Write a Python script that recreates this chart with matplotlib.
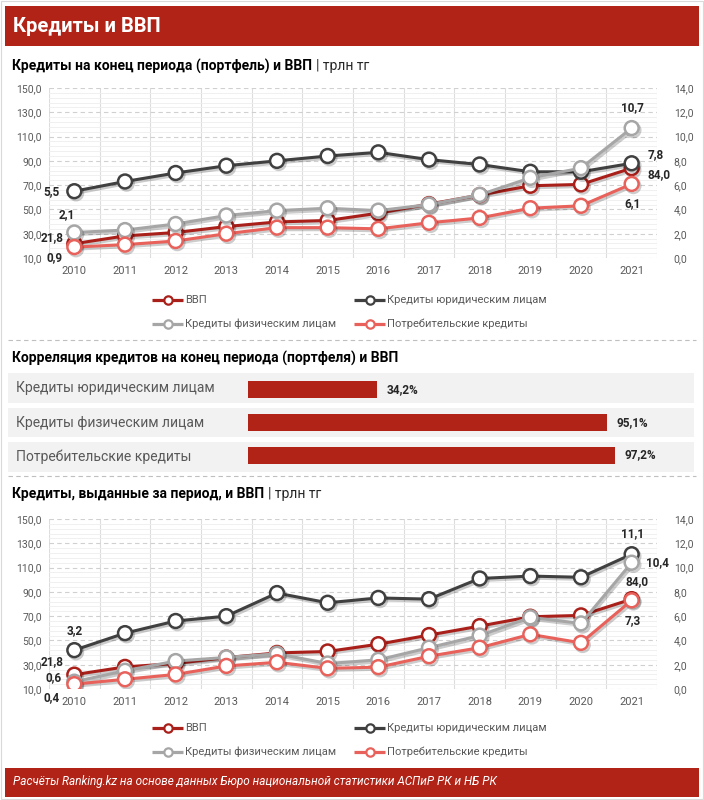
import matplotlib
matplotlib.use('Agg')
import matplotlib.pyplot as plt
import matplotlib.patheffects as pe
from matplotlib.ticker import FuncFormatter, AutoMinorLocator
import numpy as np

plt.rcParams['font.family'] = ['Roboto', 'DejaVu Sans']

W, H = 704, 800

years = ['2010', '2011', '2012', '2013', '2014', '2015',
         '2016', '2017', '2018', '2019', '2020', '2021']

# ВВП, трлн тг (левая ось)
gdp = [21.8, 28.2, 31.0, 35.9, 39.7, 40.9, 46.9, 54.4, 61.8, 69.5, 70.6, 84.0]

# портфель на конец периода, трлн тг (правая ось)
port_legal = [5.5, 6.3, 7.0, 7.6, 8.0, 8.4, 8.7, 8.1, 7.7, 7.1, 7.1, 7.8]
port_indiv = [2.1, 2.3, 2.8, 3.5, 3.9, 4.1, 3.9, 4.4, 5.2, 6.6, 7.4, 10.7]
port_cons = [0.9, 1.1, 1.4, 2.0, 2.5, 2.5, 2.4, 2.9, 3.3, 4.1, 4.3, 6.1]

# выдано за период, трлн тг (правая ось)
iss_legal = [3.2, 4.6, 5.6, 6.0, 7.9, 7.1, 7.5, 7.4, 9.1, 9.3, 9.2, 11.1]
iss_indiv = [0.6, 1.5, 2.3, 2.6, 2.9, 2.1, 2.4, 3.4, 4.4, 5.9, 5.4, 10.4]
iss_cons = [0.4, 0.8, 1.2, 1.9, 2.2, 1.7, 1.8, 2.7, 3.4, 4.5, 3.8, 7.3]

corr_names = ['Кредиты юридическим лицам', 'Кредиты физическим лицам', 'Потребительские кредиты']
corr_vals = [34.2, 95.1, 97.2]

series_names = ['ВВП', 'Кредиты юридическим лицам', 'Кредиты физическим лицам', 'Потребительские кредиты']

RED = '#B22317'
C_GDP = '#A91F1A'
C_LEGAL = '#404040'
C_INDIV = '#A6A6A6'
C_CONS = '#E8615A'
TXT = '#595959'
DARK = '#262626'


def box(l, t, w, h):
    return [l / W, 1 - (t + h) / H, w / W, h / H]


def comma(v, p=None):
    return f'{v:.1f}'.replace('.', ',')


fig = plt.figure(figsize=(W / 100, H / 100), dpi=100)

ov = fig.add_axes([0, 0, 1, 1], zorder=0)
ov.set_xlim(0, W)
ov.set_ylim(H, 0)
ov.axis('off')

# шапка и подвал
ov.add_patch(plt.Rectangle((5, 6), 694, 40, color=RED, lw=0))
ov.text(13, 27, 'Кредиты и ВВП', color='white', fontsize=14.5, fontweight='bold', va='center')
ov.add_patch(plt.Rectangle((5, 768), 694, 29, color=RED, lw=0))
ov.text(13, 782, 'Расчёты Ranking.kz на основе данных Бюро национальной статистики АСПиР РК и НБ РК',
        color='white', fontsize=8.5, style='italic', va='center')
ov.add_patch(plt.Rectangle((1, 1), 702, 798, fill=False, ec='#D9D9D9', lw=0.8))


def subtitle(y, bold, rest):
    t = ov.text(12, y, bold, fontsize=10, fontweight='bold', color='black', va='center')
    fig.canvas.draw()
    bb = t.get_window_extent()
    x1 = bb.x1 + 4
    ov.text(x1 * W / fig.bbox.width, y, rest, fontsize=10, color=DARK, va='center')


subtitle(66, 'Кредиты на конец периода (портфель) и ВВП', '| трлн тг')
subtitle(494, 'Кредиты, выданные за период, и ВВП', '| трлн тг')
ov.text(12, 358, 'Корреляция кредитов на конец периода (портфеля) и ВВП',
        fontsize=10, fontweight='bold', color='black', va='center')

for y in (340, 476):
    ov.plot([8, 696], [y, y], color='#BFBFBF', lw=0.8, ls=(0, (4, 3)))


shadow = [pe.SimpleLineShadow(offset=(1.2, -1.5), alpha=0.2), pe.Normal()]


def draw_line(ax, vals, color):
    ax.plot(np.arange(len(vals)), vals, color=color, lw=2.2, marker='o', ms=10,
            mfc='white', mec=color, mew=1.8, path_effects=shadow, zorder=3)


def label(ax, i, v, dx, dy):
    ax.annotate(comma(v), (i, v), xytext=(dx, dy), textcoords='offset pixels',
                ha='center', va='center', fontsize=8.5, fontweight='bold', color=DARK, zorder=5)


def line_panel(top, legal, indiv, cons):
    ax = fig.add_axes(box(49, top, 608, 170), zorder=1)
    ax2 = ax.twinx()
    ax2.set_zorder(2)
    x = np.arange(len(years))
    ax.set_xlim(-0.5, len(years) - 0.5)
    ax.set_ylim(10, 150)
    ax2.set_ylim(0, 14)
    ax.set_yticks(np.arange(10, 151, 20))
    ax2.set_yticks(np.arange(0, 14.1, 2))
    ax.yaxis.set_major_formatter(FuncFormatter(comma))
    ax2.yaxis.set_major_formatter(FuncFormatter(comma))
    ax.yaxis.set_minor_locator(AutoMinorLocator(5))
    ax.set_xticks(x)
    ax.set_xticklabels(years)
    ax.set_xticks(np.arange(-0.5, len(years), 1), minor=True)
    ax.grid(axis='y', which='major', color='#D0D0D0', lw=0.8, ls=(0, (4, 3)))
    ax.grid(axis='y', which='minor', color='#EEEEEE', lw=0.6)
    ax.grid(axis='x', which='minor', color='#DDDDDD', lw=0.8)
    ax.set_axisbelow(True)
    for a in (ax, ax2):
        for s in a.spines.values():
            s.set_visible(False)
        a.tick_params(which='both', length=0, labelsize=7.5, labelcolor=TXT)
    ax.tick_params(axis='x', pad=6, labelsize=8)
    ax.tick_params(axis='y', pad=5)
    ax2.tick_params(axis='y', pad=12)
    ax.set_facecolor('none')

    draw_line(ax, gdp, C_GDP)
    draw_line(ax2, legal, C_LEGAL)
    draw_line(ax2, indiv, C_INDIV)
    draw_line(ax2, cons, C_CONS)
    return ax, ax2


def legend(y1, y2):
    entries = [(152, y1, C_GDP, series_names[0]), (354, y1, C_LEGAL, series_names[1]),
               (152, y2, C_INDIV, series_names[2]), (354, y2, C_CONS, series_names[3])]
    for x0, y, c, name in entries:
        ov.plot([x0, x0 + 31], [y, y], color=c, lw=2.3, solid_capstyle='butt')
        ov.plot([x0 + 15.5], [y], marker='o', ms=6, mfc='white', mec=c, mew=1.6)
        ov.text(x0 + 33, y, name, fontsize=8, color=TXT, va='center')


last = len(years) - 1

ax, ax2 = line_panel(88, port_legal, port_indiv, port_cons)
label(ax2, 0, port_legal[0], -23, 0)
label(ax2, 0, port_indiv[0], -8, 18)
label(ax, 0, gdp[0], -22, 6)
label(ax2, 0, port_cons[0], -20, -11)
label(ax2, last, port_indiv[last], 1, 20)
label(ax2, last, port_legal[last], 24, 9)
label(ax, last, gdp[last], 27, -6)
label(ax2, last, port_cons[last], 1, -20)
legend(300, 324)

bx, bx2 = line_panel(519, iss_legal, iss_indiv, iss_cons)
label(bx2, 0, iss_legal[0], 0, 20)
label(bx, 0, gdp[0], -22, 13)
label(bx2, 0, iss_indiv[0], -21, 4)
label(bx2, 0, iss_cons[0], -23, -13)
label(bx2, last, iss_legal[last], 1, 21)
label(bx2, last, iss_indiv[last], 26, 0)
label(bx, last, gdp[last], 5, 18)
label(bx2, last, iss_cons[last], 1, -20)
legend(728, 752)

# корреляция
bands = [(373, 403), (408, 437), (442, 472)]
for (t, b), name in zip(bands, corr_names):
    ov.add_patch(plt.Rectangle((8, t), 686, b - t, color='#F2F2F2', lw=0, zorder=0))
    ov.text(16, (t + b) / 2, name, fontsize=10, color=TXT, va='center')

cx = fig.add_axes(box(248, 373, 446, 99), zorder=1)
cx.set_facecolor('none')
cx.axis('off')
ypos = np.arange(len(corr_vals))
cx.barh(ypos, corr_vals, height=0.52, color=RED)
cx.set_ylim(len(corr_vals) - 0.5 + 0.02, -0.5 - 0.02)
cx.set_xlim(0, 446 / 3.777)
for i, v in enumerate(corr_vals):
    cx.text(v + 2.5, i, f'{v:.1f}%'.replace('.', ','), fontsize=8.5, fontweight='bold',
            color=DARK, va='center')

fig.savefig('out.png', dpi=100)
